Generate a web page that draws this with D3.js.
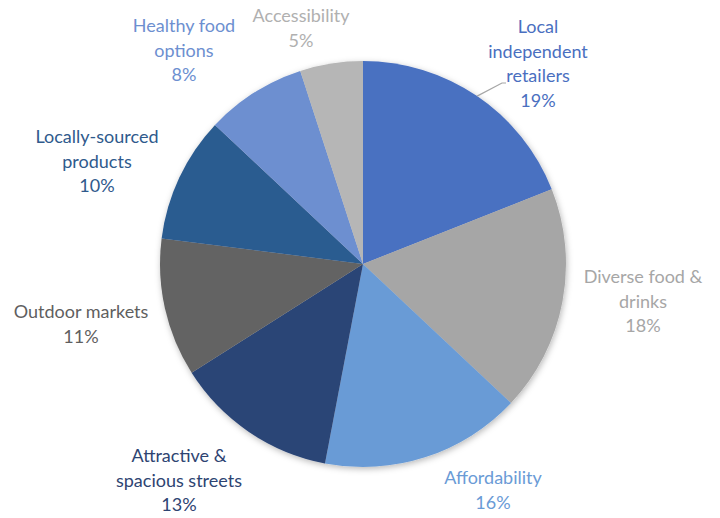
<!DOCTYPE html>
<html>
<head>
<meta charset="utf-8">
<script src="https://cdn.jsdelivr.net/npm/d3@7"></script>
<style>
  html, body { margin: 0; padding: 0; background: #ffffff; }
  svg { display: block; }
  text { font-family: Lato, "Open Sans", sans-serif; }
</style>
</head>
<body>
<div id="chart"></div>
<script>
// Share of respondents by high-street attribute, clockwise from 12 o'clock
const categories = [
  "Local independent retailers",
  "Diverse food & drinks",
  "Affordability",
  "Attractive & spacious streets",
  "Outdoor markets",
  "Locally-sourced products",
  "Healthy food options",
  "Accessibility"
];
const values = [19, 18, 16, 13, 11, 10, 8, 5];

// Label text split into lines
const labelLines = [
  ["Local", "independent", "retailers"],
  ["Diverse food &", "drinks"],
  ["Affordability"],
  ["Attractive &", "spacious streets"],
  ["Outdoor markets"],
  ["Locally-sourced", "products"],
  ["Healthy food", "options"],
  ["Accessibility"]
];

const sliceColors = ["#4a71c1", "#a6a6a6", "#699bd6", "#2b4576", "#636363", "#2c5b90", "#6d8fd0", "#b6b6b6"];
const labelColors = ["#4a6fc0", "#a6a6a6", "#6a9bd6", "#2e4472", "#5f5f5f", "#2f5a8c", "#6d8fd0", "#b0b0b0"];

// Label anchor (centre x, first baseline y)
const labelPos = [
  [538, 33], [643, 283], [493, 484], [179, 462],
  [81, 318], [97, 143], [184, 32], [301, 22]
];

const W = 720, H = 518;
const cx = 363, cy = 264, R = 203;
const lineH = 24.5;

const svg = d3.select("#chart").append("svg")
  .attr("width", W).attr("height", H);

const defs = svg.append("defs");
const shadow = defs.append("filter").attr("id", "pieShadow")
  .attr("x", "-10%").attr("y", "-10%").attr("width", "120%").attr("height", "120%");
shadow.append("feDropShadow")
  .attr("dx", 1).attr("dy", 2).attr("stdDeviation", 3)
  .attr("flood-color", "#000").attr("flood-opacity", 0.28);

const data = categories.map((c, i) => ({ name: c, value: values[i], i }));

const pie = d3.pie().value(d => d.value).sort(null);
const arc = d3.arc().innerRadius(0).outerRadius(R);
const arcs = pie(data);

const g = svg.append("g").attr("transform", `translate(${cx},${cy})`);

g.append("g").attr("filter", "url(#pieShadow)")
  .selectAll("path")
  .data(arcs)
  .join("path")
  .attr("d", arc)
  .attr("fill", d => sliceColors[d.data.i]);

// Leader line for the first slice
const a0 = arcs[0];
const mid = (a0.startAngle + a0.endAngle) / 2;
const ex = cx + R * Math.sin(mid), ey = cy - R * Math.cos(mid);
svg.append("polyline")
  .attr("points", `${ex},${ey} ${502},${83} ${506},${83}`)
  .attr("fill", "none")
  .attr("stroke", "#a6a6a6")
  .attr("stroke-width", 1.2);

// Category labels with percentages
const labels = svg.append("g");
arcs.forEach(d => {
  const i = d.data.i;
  const [lx, ly] = labelPos[i];
  const t = labels.append("text")
    .attr("text-anchor", "middle")
    .attr("font-size", 18)
    .attr("fill", labelColors[i]);
  const lines = labelLines[i].concat([d.data.value + "%"]);
  lines.forEach((ln, k) => {
    t.append("tspan").attr("x", lx).attr("y", ly + k * lineH).text(ln);
  });
});
</script>
</body>
</html>
